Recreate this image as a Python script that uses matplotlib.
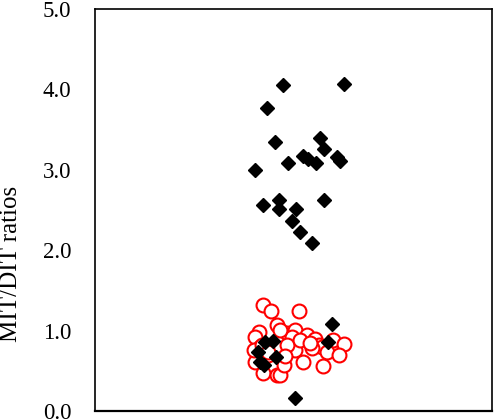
import matplotlib
matplotlib.use("Agg")
import matplotlib.pyplot as plt

plt.rcParams['font.family'] = ['Liberation Serif', 'DejaVu Serif']

# jittered x positions (arbitrary units 0-10) and MIT/DIT ratios
diamond_x = [4.74, 6.28, 4.34, 4.53, 5.67, 5.77, 4.87, 5.25, 5.37, 5.57,
             6.09, 6.17, 4.03, 4.24, 4.64, 4.64, 5.06, 4.95, 5.15, 5.46,
             5.77, 4.28, 4.47, 4.10, 4.16, 4.26, 4.55, 5.96, 5.86, 5.04]
diamond_y = [4.05, 4.06, 3.77, 3.34, 3.39, 3.26, 3.08, 3.17, 3.13, 3.08,
             3.16, 3.11, 3.00, 2.56, 2.62, 2.51, 2.51, 2.36, 2.23, 2.09,
             2.63, 0.86, 0.87, 0.74, 0.61, 0.57, 0.67, 1.08, 0.86, 0.16]

circle_x = [4.24, 4.43, 5.13, 4.58, 4.14, 4.03, 4.83, 5.04, 4.96, 5.33,
            5.54, 5.63, 5.71, 5.99, 6.26, 5.04, 5.46, 5.84, 6.15, 5.25,
            5.75, 4.03, 4.24, 4.58, 4.66, 4.75, 4.16, 4.66, 4.36, 4.00,
            4.21, 4.36, 4.84, 5.16, 5.42, 4.79]
circle_y = [1.32, 1.24, 1.25, 1.07, 0.99, 0.92, 0.97, 1.01, 0.92, 0.95,
            0.90, 0.82, 0.80, 0.88, 0.84, 0.76, 0.78, 0.74, 0.70, 0.61,
            0.56, 0.61, 0.47, 0.45, 0.45, 0.57, 0.80, 1.01, 0.70, 0.76,
            0.82, 0.73, 0.82, 0.88, 0.85, 0.68]

yticks = [0.0, 1.0, 2.0, 3.0, 4.0, 5.0]

fig = plt.figure(figsize=(4.98, 4.2), dpi=100)
ax = fig.add_axes([0.191, 0.021, 0.797, 0.958])

ax.plot(circle_x, circle_y, linestyle='none', marker='o', markersize=10,
        markerfacecolor='white', markeredgecolor='#ff0000', markeredgewidth=1.5)
ax.plot(diamond_x, diamond_y, linestyle='none', marker='D', markersize=7,
        color='black')

ax.set_xlim(0, 10)
ax.set_ylim(0, 5)
ax.set_xticks([])
ax.set_yticks(yticks)
ax.set_yticklabels([f"{t:.1f}" for t in yticks])
ax.tick_params(axis='y', length=0, pad=17, labelsize=16.5)
ax.set_ylabel("MIT/DIT ratios", fontsize=18)
# label sits a bit below the middle of the axis in the original
ax.yaxis.set_label_coords(-0.183, 0.365)

for s in ax.spines.values():
    s.set_linewidth(1.2)
ax.spines['bottom'].set_linewidth(1.6)

fig.savefig("out.png", dpi=100)
